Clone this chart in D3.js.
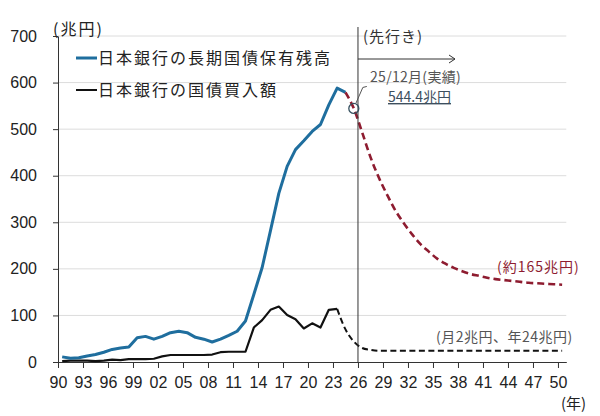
<!DOCTYPE html>
<html><head><meta charset="utf-8">
<script src="https://cdn.jsdelivr.net/npm/d3@7"></script>
<style>
html,body{margin:0;padding:0;background:#fff;}
svg{display:block;}
</style></head>
<body>
<svg id="c" width="600" height="416"></svg>
<script>
// ---- data ----
const years = d3.range(1990, 2025); // 1990..2024
const holdings = [11,8,9,13,16,21,27,30,32,52,55,49,55,63,66,63,53,49,43,49,57,66,88,145,203,282,362,420,456,475,495,510,552,588,579];
const buyYears = d3.range(1990, 2024); // 1990..2023
const purchases = [2,3,3,3,2,3,5,4,6,6,6,7,12,15,15,15,15,15,16,21,22,22,22,74,90,112,119,101,92,72,83,74,112,114];
const projYears = d3.range(2025, 2051);
const holdingsProj = [544.4,493,440,396,359,325,298,274,253,237,222,211,202,195,189,185,181,178,176,174,172,170,169,168,167,166];
const buyProjYears = d3.range(2024, 2051);
const purchasesProj = [70,44,30,26,24,24,24,24,24,24,24,24,24,24,24,24,24,24,24,24,24,24,24,24,24,24,24];
const yTicks = [0,100,200,300,400,500,600,700];
const xTicks = d3.range(1990, 2051, 3);
const legendLabels = ["日本銀行の長期国債保有残高", "日本銀行の国債買入額"];

// ---- drawing ----
const svg = d3.select("#c");
const x = d3.scaleLinear().domain([1990, 2051]).range([58, 566.3]);
const y = d3.scaleLinear().domain([0, 700]).range([362, 36]);
const off = 0.5;
const JP = "'Noto Sans CJK JP','Noto Sans',sans-serif";
const NUM = "'Liberation Sans',Arial,sans-serif";

// gridlines
svg.append("g").selectAll("line").data(yTicks.filter(d => d > 0)).join("line")
  .attr("x1", 58).attr("x2", 566.3).attr("y1", d => y(d)).attr("y2", d => y(d))
  .attr("stroke", "#dcdcdc").attr("stroke-width", 1);

// axes
const ya = svg.append("g").attr("transform", "translate(58,0)")
  .call(d3.axisLeft(y).tickValues(yTicks).tickSize(5).tickSizeOuter(0).tickPadding(16));
const xa = svg.append("g").attr("transform", "translate(0,362)")
  .call(d3.axisBottom(x).tickValues(xTicks).tickSize(6).tickSizeOuter(0).tickPadding(9)
    .tickFormat(d => String(d % 100).padStart(2, "0")));
[ya, xa].forEach(g => {
  g.select(".domain").attr("stroke", "#333").attr("stroke-width", 1);
  g.selectAll(".tick line").attr("stroke", "#333");
  g.selectAll("text").attr("fill", "#222").style("font-family", NUM).style("font-size", "16px");
});

const line = d3.line().x(d => x(d[0] + off)).y(d => y(d[1]));
const curve = d3.line().x(d => x(d[0] + off)).y(d => y(d[1])).curve(d3.curveMonotoneX);

// purchases (black)
const buyPts = buyYears.map((yr, i) => [yr, purchases[i]]);
svg.append("path").attr("d", line(buyPts)).attr("fill", "none")
  .attr("stroke", "#111").attr("stroke-width", 2.2).attr("stroke-linejoin", "round");
const buyProjPts = [buyPts[buyPts.length - 1]].concat(buyProjYears.map((yr, i) => [yr, purchasesProj[i]]));
svg.append("path").attr("d", curve(buyProjPts)).attr("fill", "none")
  .attr("stroke", "#111").attr("stroke-width", 2).attr("stroke-dasharray", "6,3.5");

// holdings (blue)
const holdPts = years.map((yr, i) => [yr, holdings[i]]);
svg.append("path").attr("d", line(holdPts)).attr("fill", "none")
  .attr("stroke", "#1f6e9e").attr("stroke-width", 3).attr("stroke-linejoin", "round");
const holdProjPts = [holdPts[holdPts.length - 1]].concat(projYears.map((yr, i) => [yr, holdingsProj[i]]));
svg.append("path").attr("d", curve(holdProjPts)).attr("fill", "none")
  .attr("stroke", "#8e1c30").attr("stroke-width", 2.6).attr("stroke-dasharray", "7,4");

// vertical divider and arrow
const xd = x(2026);
svg.append("line").attr("x1", xd).attr("x2", xd).attr("y1", 27).attr("y2", 362)
  .attr("stroke", "#333").attr("stroke-width", 1);
svg.append("line").attr("x1", xd).attr("x2", 455).attr("y1", 59).attr("y2", 59)
  .attr("stroke", "#333").attr("stroke-width", 1);
svg.append("path").attr("d", "M449,55 L455,59 L449,63").attr("fill", "none")
  .attr("stroke", "#333").attr("stroke-width", 1);
svg.append("text").attr("x", 363).attr("y", 42).text("(先行き)")
  .style("font-family", JP).style("font-size", "15px").attr("fill", "#333").style("letter-spacing", "1px");

// marker circle and leader
const cx = x(2025 + off), cy = y(holdingsProj[0]);
svg.append("circle").attr("cx", cx).attr("cy", cy).attr("r", 5)
  .attr("fill", "none").attr("stroke", "#35505f").attr("stroke-width", 1.3);
svg.append("path").attr("d", `M${cx + 2},${cy - 5} L${cx + 9},${cy - 21} L${cx + 13},${cy - 22}`)
  .attr("fill", "none").attr("stroke", "#555").attr("stroke-width", 1);
svg.append("text").attr("x", 370).attr("y", 82).text("25/12月(実績)")
  .style("font-family", JP).style("font-size", "14px").attr("fill", "#555").style("letter-spacing", "0.3px");
svg.append("text").attr("x", 388).attr("y", 102).text("544.4兆円")
  .style("font-family", JP).style("font-size", "14px").attr("fill", "#3d4f5e")
  .style("text-decoration", "underline");

// projection labels
svg.append("text").attr("x", 497).attr("y", 272).text("(約165兆円)")
  .style("font-family", JP).style("font-size", "14px").attr("fill", "#8e1c30").style("letter-spacing", "1px");
svg.append("text").attr("x", 436).attr("y", 342).text("(月2兆円、年24兆円)")
  .style("font-family", JP).style("font-size", "14px").attr("fill", "#555").style("letter-spacing", "0.5px");

// units
svg.append("text").attr("x", 53).attr("y", 35).text("(兆円)")
  .style("font-family", JP).style("font-size", "16px").attr("fill", "#222").style("letter-spacing", "2px");
svg.append("text").attr("x", 561).attr("y", 409).text("(年)")
  .style("font-family", JP).style("font-size", "15px").attr("fill", "#222");

// legend
const legColors = ["#1f6e9e", "#111"];
const legW = [3, 2];
const legY = [58, 90];
legendLabels.forEach((t, i) => {
  svg.append("line").attr("x1", 76).attr("x2", 97).attr("y1", legY[i]).attr("y2", legY[i])
    .attr("stroke", legColors[i]).attr("stroke-width", legW[i]);
  svg.append("text").attr("x", 98).attr("y", legY[i] + 6).text(t)
    .style("font-family", JP).style("font-size", "16px").style("letter-spacing", "2px").attr("fill", "#222");
});
</script>
</body></html>
